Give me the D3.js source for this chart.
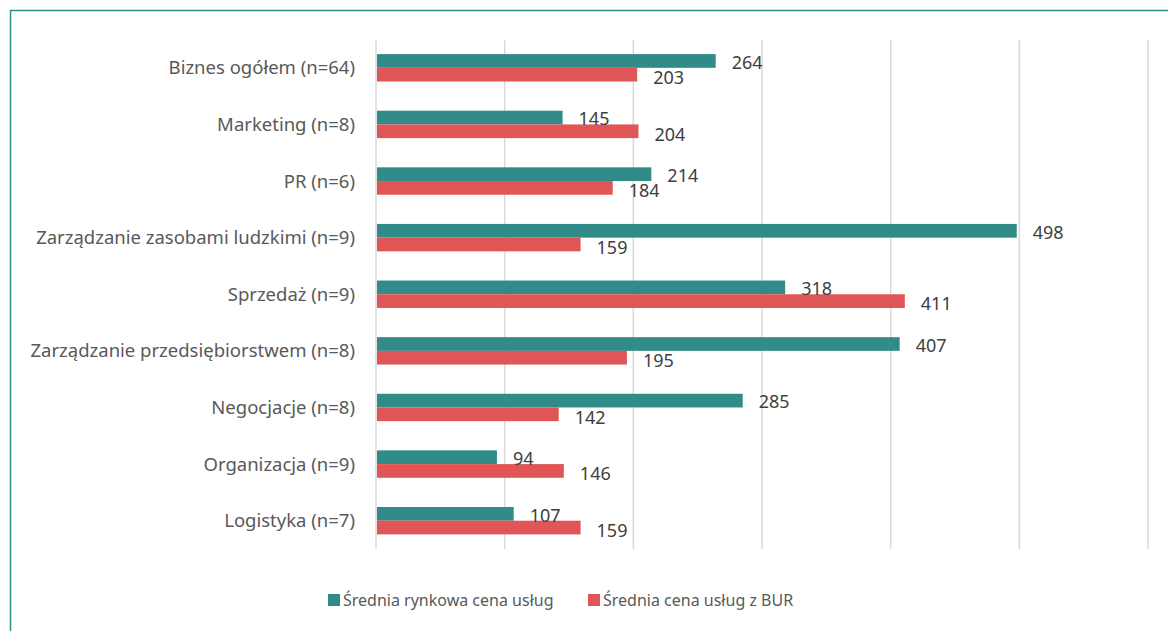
<!DOCTYPE html>
<html>
<head>
<meta charset="utf-8">
<script src="https://cdn.jsdelivr.net/npm/d3@7"></script>
<style>
  body { margin: 0; background: #fff; }
  text { font-family: "Noto Sans", sans-serif; }
</style>
</head>
<body>
<script>
// data
var categories = ["Biznes ogółem (n=64)", "Marketing (n=8)", "PR (n=6)",
  "Zarządzanie zasobami ludzkimi (n=9)", "Sprzedaż (n=9)",
  "Zarządzanie  przedsiębiorstwem (n=8)", "Negocjacje (n=8)",
  "Organizacja (n=9)", "Logistyka (n=7)"];
var marketPrice = [264, 145, 214, 498, 318, 407, 285, 94, 107];
var burPrice = [203, 204, 184, 159, 411, 195, 142, 146, 159];
var seriesNames = ["Średnia rynkowa cena usług", "Średnia cena usług z BUR"];
var xTicks = [0, 100, 200, 300, 400, 500, 600];

var width = 1168, height = 631;
var colors = ["#318B89", "#E05656"];

var svg = d3.select("body").append("svg")
    .attr("width", width)
    .attr("height", height);

// frame (runs off the right and bottom edges)
svg.append("rect")
    .attr("x", 10.5).attr("y", 10.5)
    .attr("width", width + 20).attr("height", height + 20)
    .attr("fill", "none")
    .attr("stroke", "#2E8F8C")
    .attr("stroke-width", 1.5);

var plot = {left: 376, right: 1148, top: 39.5, bottom: 549};

var x = d3.scaleLinear()
    .domain([0, 600])
    .range([plot.left, plot.right]);

var y = d3.scaleBand()
    .domain(categories)
    .range([plot.top, plot.bottom])
    .paddingInner(0.516)
    .paddingOuter(0.258);

var inner = d3.scaleBand()
    .domain([0, 1])
    .range([0, y.bandwidth()]);

// gridlines
svg.append("g")
  .selectAll("line")
  .data(xTicks)
  .enter()
  .append("line")
    .attr("x1", function(d) { return x(d); })
    .attr("x2", function(d) { return x(d); })
    .attr("y1", plot.top)
    .attr("y2", plot.bottom)
    .attr("stroke", "#D9D9D9")
    .attr("stroke-width", 1.5);

// category labels
svg.append("g")
  .selectAll("text")
  .data(categories)
  .enter()
  .append("text")
    .attr("x", plot.left - 21)
    .attr("y", function(d) { return y(d) + y.bandwidth() / 2; })
    .attr("dy", "0.35em")
    .attr("text-anchor", "end")
    .attr("font-size", "18.5px")
    .attr("fill", "#595959")
    .text(function(d) { return d; });

var rows = categories.map(function(c, i) {
  return {cat: c, values: [marketPrice[i], burPrice[i]]};
});

var groups = svg.append("g")
  .selectAll("g")
  .data(rows)
  .enter()
  .append("g")
    .attr("transform", function(d) { return "translate(0," + y(d.cat) + ")"; });

groups.selectAll("rect")
  .data(function(d) { return d.values; })
  .enter()
  .append("rect")
    .attr("x", x(0) + 1)
    .attr("y", function(d, i) { return inner(i); })
    .attr("width", function(d) { return x(d) - x(0) - 1; })
    .attr("height", inner.bandwidth())
    .attr("fill", function(d, i) { return colors[i]; });

groups.selectAll("text")
  .data(function(d) { return d.values; })
  .enter()
  .append("text")
    .attr("x", function(d) { return x(d) + 16; })
    .attr("y", function(d, i) { return inner(i) + inner.bandwidth() / 2 + (i === 0 ? 1.5 : 3); })
    .attr("dy", "0.35em")
    .attr("font-size", "18px")
    .attr("fill", "#404040")
    .text(function(d) { return d; });

// legend
var legendX = [328, 588];
var legend = svg.append("g")
  .selectAll("g")
  .data(seriesNames)
  .enter()
  .append("g")
    .attr("transform", function(d, i) { return "translate(" + legendX[i] + ",600)"; });

legend.append("rect")
    .attr("x", 0).attr("y", -6)
    .attr("width", 12).attr("height", 12)
    .attr("fill", function(d, i) { return colors[i]; });

legend.append("text")
    .attr("x", 15)
    .attr("dy", "0.35em")
    .attr("font-size", "16px")
    .attr("fill", "#595959")
    .text(function(d) { return d; });
</script>
</body>
</html>
